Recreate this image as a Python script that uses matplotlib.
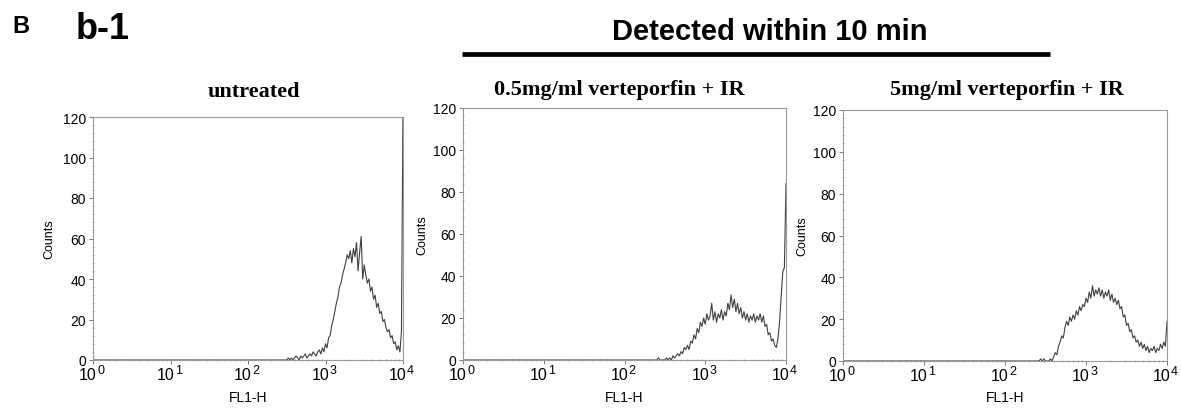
import numpy as np
import matplotlib.pyplot as plt
from matplotlib.lines import Line2D
from matplotlib.ticker import LogLocator, MultipleLocator, NullFormatter

plt.rcParams['font.family'] = ['Liberation Sans', 'DejaVu Sans']

# panel titles
titles = ['untreated', '0.5mg/ml verteporfin + IR', '5mg/ml verteporfin + IR']

# FL1-H range (log10) covered by the non-empty channels
start_decade = [2.50, 2.40, 2.40]
end_decade = [4.00, 4.00, 4.00]

# counts per channel (every 0.02 decade), below start_decade everything is 0
counts_untreated = [
    0, 1, 0, 1, 0, 1, 2, 1, 0, 2,
    1, 2, 3, 1, 2, 3, 2, 4, 3, 2,
    4, 5, 3, 6, 4, 8, 6, 11, 12, 17,
    20, 24, 28, 31, 36, 38, 42, 45, 48, 52,
    50, 54, 48, 55, 51, 58, 44, 53, 61, 40,
    47, 42, 38, 40, 34, 36, 30, 32, 26, 28,
    23, 24, 19, 20, 16, 14, 15, 11, 12, 8,
    9, 5, 7, 4, 14, 125,
]
counts_low_dose = [
    0, 1, 0, 0, 0, 0, 1, 0, 1, 0,
    2, 1, 2, 3, 2, 4, 3, 6, 5, 7,
    5, 9, 8, 12, 10, 15, 13, 18, 16, 20,
    17, 22, 19, 21, 27, 19, 23, 18, 22, 20,
    24, 19, 23, 21, 27, 24, 31, 25, 29, 23,
    27, 22, 25, 20, 23, 19, 22, 18, 21, 19,
    22, 18, 21, 19, 22, 18, 21, 16, 17, 12,
    13, 9, 10, 7, 6, 10, 18, 30, 42, 44,
    84,
]
counts_high_dose = [
    0, 0, 1, 0, 1, 0, 0, 0, 1, 0,
    2, 4, 3, 7, 9, 12, 11, 16, 19, 17,
    21, 19, 22, 20, 24, 22, 26, 24, 27, 26,
    30, 28, 33, 30, 36, 31, 34, 32, 35, 31,
    34, 30, 33, 31, 34, 29, 32, 28, 30, 27,
    29, 25, 26, 21, 22, 17, 18, 14, 15, 11,
    12, 9, 10, 7, 9, 6, 8, 5, 7, 4,
    6, 5, 7, 4, 6, 5, 8, 6, 9, 7,
    19,
]
all_counts = [counts_untreated, counts_low_dose, counts_high_dose]

y_max = 120
y_ticks = [0, 20, 40, 60, 80, 100, 120]
x_exponents = [0, 1, 2, 3, 4]

# layout (figure pixels of 1181 x 410)
W, H = 1181, 410
axes_px = [(93, 403, 118, 361), (463, 786, 109, 361), (843, 1167, 111, 362)]
title_x = [254, 619, 1007]
title_base = [97, 95, 95]
counts_x = [49, 422, 802]
fl1_y = 398

fig = plt.figure(figsize=(W / 100, H / 100), dpi=100)

fig.text(12 / W, 1 - 33 / H, 'B', fontsize=17, fontweight='bold', va='baseline')
fig.text(76 / W, 1 - 39 / H, 'b-1', fontsize=26, fontweight='bold', va='baseline')
fig.text(770 / W, 1 - 40 / H, 'Detected within 10 min', fontsize=21,
         fontweight='bold', ha='center', va='baseline')
fig.add_artist(Line2D([462 / W, 1050 / W], [1 - 55 / H, 1 - 55 / H],
                      transform=fig.transFigure, color='black', lw=3.4,
                      solid_capstyle='butt'))

for i, counts in enumerate(all_counts):
    x0, x1, y0, y1 = axes_px[i]
    ax = fig.add_axes([x0 / W, 1 - y1 / H, (x1 - x0) / W, (y1 - y0) / H])

    dec = np.linspace(start_decade[i], end_decade[i], len(counts))
    xs = np.concatenate([[1.0], 10 ** dec])
    ys = np.concatenate([[0], counts])
    ax.plot(xs, ys, color='#404040', lw=0.8)

    ax.set_xscale('log')
    ax.set_xlim(1, 1e4)
    ax.set_ylim(0, y_max)
    ax.set_yticks(y_ticks)
    ax.yaxis.set_minor_locator(MultipleLocator(4))

    # decade labels: "10" next to a large raised exponent, drawn at each tick
    ax.set_xticks([10.0 ** e for e in x_exponents])
    ax.tick_params(axis='x', labelbottom=False)
    ax.xaxis.set_minor_locator(LogLocator(base=10, subs=np.arange(2, 10), numticks=10))
    ax.xaxis.set_minor_formatter(NullFormatter())
    for e in x_exponents:
        ax.annotate('10', xy=(10.0 ** e, 0), xycoords=('data', 'axes fraction'),
                    xytext=(2.8, -13.4), textcoords='offset points',
                    fontsize=11.5, ha='right', va='baseline', annotation_clip=False)
        ax.annotate(str(e), xy=(10.0 ** e, 0), xycoords=('data', 'axes fraction'),
                    xytext=(3.0, -9.6), textcoords='offset points',
                    fontsize=9, ha='left', va='baseline', annotation_clip=False)

    for s in ax.spines.values():
        s.set_color('#9a9a9a')
        s.set_linewidth(0.8)
    ax.tick_params(axis='both', which='major', length=3, width=0.7,
                   color='#777777', direction='out')
    ax.tick_params(axis='both', which='minor', length=1.6, width=0.6,
                   color='#999999', direction='inout')
    ax.tick_params(axis='y', labelsize=10, pad=2)

    h = y1 - y0
    wpx = x1 - x0
    ax.text(0.5, -(fl1_y - y1) / h, 'FL1-H', transform=ax.transAxes,
            ha='center', va='center', fontsize=10)
    ax.text(-(x0 - counts_x[i]) / wpx, 0.5, 'Counts', transform=ax.transAxes,
            ha='center', va='center', rotation=90, fontsize=9)

    fig.text(title_x[i] / W, 1 - title_base[i] / H, titles[i],
             family=['Liberation Serif', 'DejaVu Serif'], fontweight='bold',
             fontsize=16, ha='center', va='baseline')

fig.savefig('out.png', dpi=100)
